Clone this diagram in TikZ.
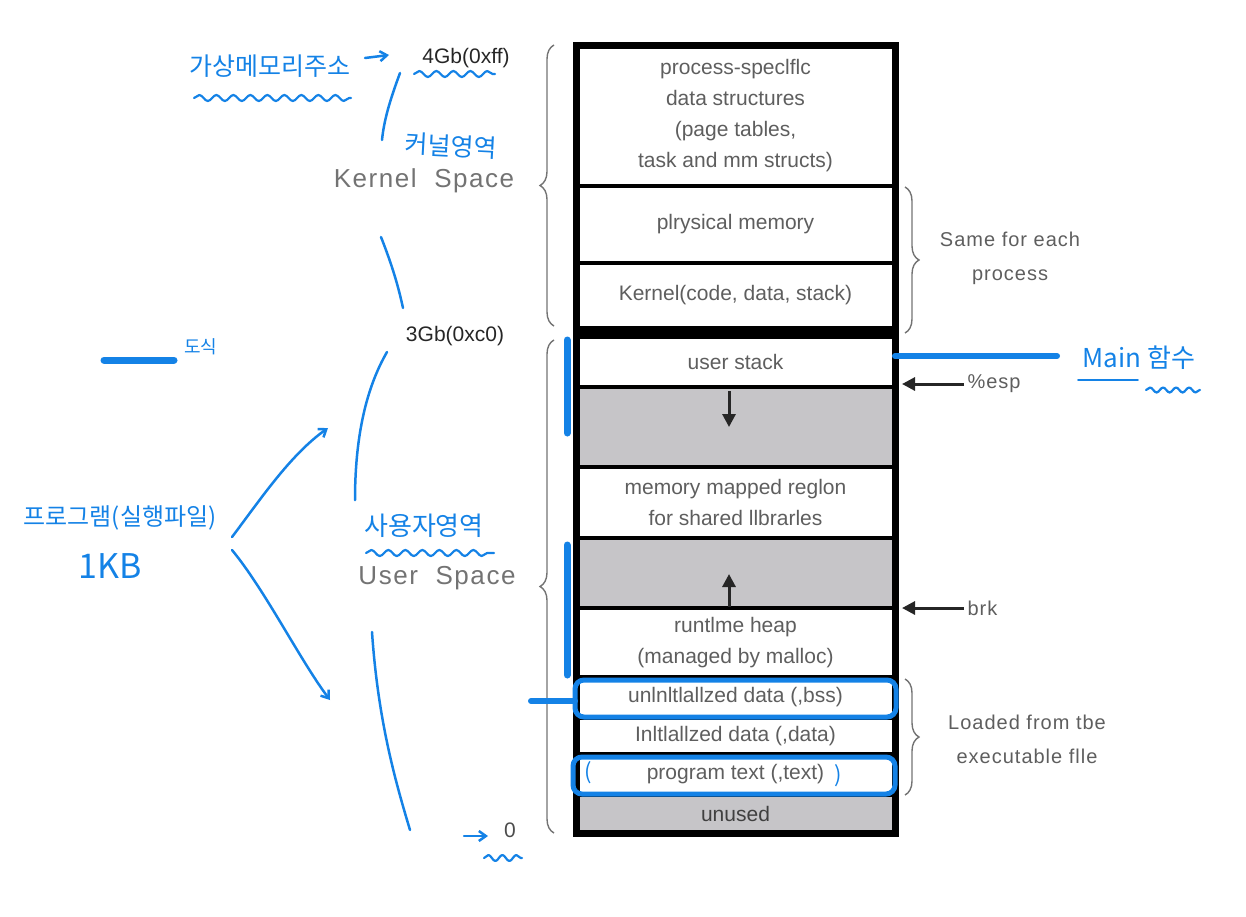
\documentclass[tikz,border=0pt]{standalone}
\usepackage{fontspec}
\setmainfont{Liberation Sans}
\newfontfamily\kr{Noto Sans CJK KR}
\usetikzlibrary{decorations.pathreplacing,decorations.pathmorphing,arrows.meta}
\definecolor{pen}{HTML}{1482E6}
\definecolor{txt}{HTML}{5E5E5E}
\definecolor{gapgray}{HTML}{C6C5C8}
\tikzset{
 cell/.style={draw=black, line width=4pt, minimum width=319pt, inner sep=0pt, text=txt, align=center, font=\fontsize{21}{31}\selectfont},
 gapcell/.style={cell, fill=gapgray},
 pen/.style={draw=pen, line width=2.5pt, line cap=round, line join=round},
 hand/.style={text=pen, font=\kr\fontsize{25}{28}\selectfont, inner sep=0pt},
 wavy/.style={pen, line width=2.2pt, decorate, decoration={snake, amplitude=3pt, segment length=17pt}},
 bluebox/.style={draw=pen, line width=5pt, rounded corners=9pt},
 bbrace/.style={draw=black!55, line width=1.4pt, decorate, decoration={brace, amplitude=14pt}},
 lbl/.style={text=txt, align=center, font=\fontsize{20}{34}\selectfont\addfontfeature{LetterSpace=5}},
 addr/.style={text=black!85, font=\fontsize{21}{24}\selectfont},
 space/.style={text=black!55, font=\fontsize{26}{30}\selectfont\addfontfeature{LetterSpace=6}},
 ptr/.style={-{Triangle[length=13pt,width=13pt]}, line width=3pt, draw=black!85},
 barb/.style={pen, -{Straight Barb[length=7pt,width=10pt]}},
}
\begin{document}
\begin{tikzpicture}[x=1pt,y=-1pt]
\useasboundingbox (0,0) rectangle (1246,916);
% ---- memory cells
\node[cell, minimum height=141pt] (ps) at (735.5,115.5) {process-speclflc\\data structures\\(page tables,\\task and mm structs)};
\node[cell, minimum height=77pt] (phys) at (735.5,224.5) {plrysical memory};
\node[cell, minimum height=65pt] (kern) at (735.5,295.5) {Kernel(code, data, stack)};
\node[fill=black, minimum width=319pt, minimum height=10pt, inner sep=0pt] (band) at (735.5,332) {};
\node[cell, minimum height=50pt] (ustack) at (735.5,362) {user stack};
\node[gapcell, minimum height=80pt] (gap1) at (735.5,427) {};
\node[cell, minimum height=71pt] (mmap) at (735.5,502.5) {memory mapped reglon\\for shared llbrarles};
\node[gapcell, minimum height=70pt] (gap2) at (735.5,573) {};
\node[cell, minimum height=69pt] (heap) at (735.5,642.5) {runtlme heap\\(managed by malloc)};
\node[cell, minimum height=41pt] (bss) at (735.5,697.5) {unlnltlallzed data (,bss)};
\node[cell, minimum height=36pt] (data) at (735.5,736) {Inltlallzed data (,data)};
\node[cell, minimum height=41pt] (text) at (735.5,774.5) {program text (,text)};
\node[gapcell, minimum height=38pt, text=black!75] (unused) at (735.5,814) {unused};
\draw[line width=7pt] (576,45) rectangle (895,833);
% growth arrows
\coordinate (d1) at (729,391); \coordinate (d2) at (729,427);
\draw[ptr] (d1) -- (d2);
\coordinate (u1) at (729,607); \coordinate (u2) at (729,574);
\draw[ptr] (u1) -- (u2);
% ---- left labels and braces
\node[addr] (gb4) at (466,58) {4Gb(0xff)};
\node[addr] (gb3) at (455,336) {3Gb(0xc0)};
\node[addr, text=black!70] (zero) at (510,830) {0};
\node[space] (ks) at (424,181) {Kernel\ \ Space};
\node[space] (us) at (437,578) {User\ \ Space};
\draw[bbrace] (554,326) -- (554,45);
\draw[bbrace] (554,833) -- (554,340);
% ---- right braces and labels
\draw[bbrace] (905,187) -- (905,333);
\draw[bbrace] (905,679) -- (905,795);
\node[lbl] (same) at (1010,258) {Same for each\\process};
\node[lbl] (loaded) at (1027,739) {Loaded from tbe\\executable flle};
\node[lbl, anchor=west] (esp) at (964,384) {\%esp};
\coordinate (espend) at (902,384);
\draw[ptr] (esp.west) -- (espend);
\node[lbl, anchor=west] (brk) at (964,608) {brk};
\coordinate (brkend) at (902,608);
\draw[ptr] (brk.west) -- (brkend);
% ---- blue annotations
\draw[bluebox] (575,680) rectangle (896,717);
\draw[bluebox] (573,757) rectangle (895,794);
\node[hand, font=\kr\fontsize{22}{22}\selectfont] (lp) at (588,773) {(};
\node[hand, font=\kr\fontsize{22}{22}\selectfont] (rp) at (838,776) {)};
\draw[pen, line width=7pt] (567,340) -- (567,433);
\draw[pen, line width=7pt] (567,545) -- (567,675);
\draw[pen, line width=6pt] (531,701) -- (575,701);
\draw[pen, line width=6pt] (895,356) -- (1057,356);
\node[hand] (vaddr) at (270,66) {가상메모리주소};
\draw[wavy] (194,98) -- (351,98);
\draw[barb] (365,58) -- (389,55);
\draw[wavy] (414,74) -- (495,74);
\draw[pen] (400,73) .. controls (390,100) and (384,120) .. (382,140);
\node[hand, font=\kr\fontsize{25}{28}\selectfont, rotate=-3] (kkr) at (451,146) {커널영역};
\draw[pen] (381,237) .. controls (392,265) and (398,285) .. (403,308);
\draw[pen] (387,352) .. controls (365,390) and (355,440) .. (355,500);
\node[hand, font=\kr\fontsize{26}{28}\selectfont] (ukr) at (424,526) {사용자영역};
\draw[wavy] (366,553) -- (494,553);
\draw[pen] (372,632) .. controls (378,720) and (395,780) .. (410,830);
\draw[barb] (464,836) -- (488,836);
\draw[wavy, decoration={snake, amplitude=3pt, segment length=14pt}] (484,858) -- (522,858);
\draw[pen, line width=7pt] (104,360) -- (174,360);
\node[hand, font=\kr\fontsize{18}{20}\selectfont, anchor=west] (dosik) at (184,347) {도식};
\node[hand, font=\kr\fontsize{24}{28}\selectfont] (prog) at (120,518) {프로그램(실행파일)};
\node[hand, font=\kr\fontsize{34}{36}\selectfont] (kb) at (110,566) {1KB};
\coordinate (ps1) at (232,537); \coordinate (pe1) at (328,428);
\draw[barb] (ps1) .. controls (260,500) and (290,455) .. (pe1);
\coordinate (ps2) at (232,550); \coordinate (pe2) at (330,700);
\draw[barb] (ps2) .. controls (265,590) and (300,660) .. (pe2);
\node[hand, font=\kr\fontsize{26}{28}\selectfont] (mainf) at (1139,358) {Main 함수};
\draw[pen, line width=1.8pt] (1078,380) -- (1138,380);
\draw[wavy, decoration={snake, amplitude=2.5pt, segment length=13pt}] (1146,390) -- (1200,390);
\end{tikzpicture}
\end{document}
